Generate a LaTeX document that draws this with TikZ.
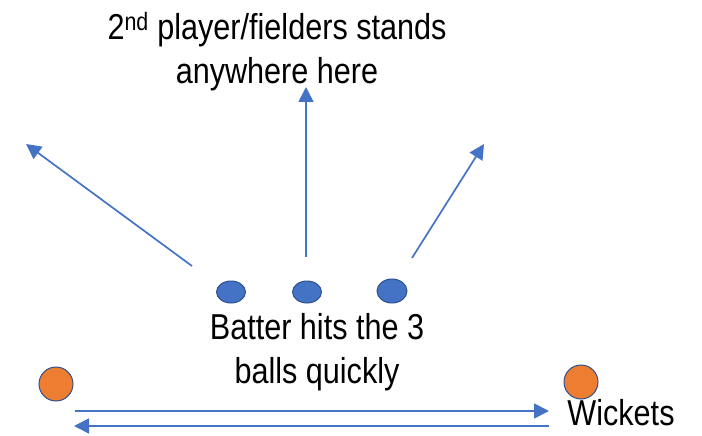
\documentclass[tikz,border=0pt]{standalone}
\usepackage{fontspec}
\setmainfont{Liberation Sans}[FakeStretch=0.85]
\usepackage{xcolor}
\usetikzlibrary{arrows.meta,positioning,shapes.geometric}
\definecolor{ballblue}{HTML}{4472C4}
\definecolor{rimblue}{HTML}{2F528F}
\definecolor{wicketorange}{HTML}{ED7D31}

\begin{document}
\begin{tikzpicture}[x=1pt,y=-1pt,>={Triangle[length=15pt,width=15pt]},
   hit/.style={->,color=ballblue,line width=1.7pt},
   ball/.style={ellipse,draw=rimblue,fill=ballblue,line width=1pt,minimum width=29pt,minimum height=22pt,inner sep=0pt},
   wicket/.style={circle,draw=rimblue,fill=wicketorange,line width=1pt,minimum size=34pt,inner sep=0pt},
   label/.style={align=center,anchor=base,inner sep=0pt,font=\fontsize{36}{44}\selectfont}]
   \useasboundingbox (0,0) rectangle (702,436);
   % balls and wickets
   \node[ball] (B1) at (231,292) {};
   \node[ball] (B2) at (307,292) {};
   \node[ball,minimum width=30pt,minimum height=24pt] (B3) at (392,291) {};
   \node[wicket] (W1) at (56,384) {};
   \node[wicket] (W2) at (581,382) {};
   % texts (base = last line)
   \node[label] (field) at (277,84) {2\textsuperscript{nd} player/fielders stands\\anywhere here};
   \node[label] (batter) at (317,383) {Batter hits the 3\\balls quickly};
   \node[label] (wkt) at (621,425) {Wickets};
   % free ends of the shots and runs
   \coordinate (lt) at (192,266); \coordinate (lh) at (26,144);
   \coordinate (mt) at (306,257); \coordinate (mh) at (306,87);
   \coordinate (rt) at (412,258); \coordinate (rh) at (484,144);
   \coordinate (ot) at (75,411);  \coordinate (oh) at (549,411);
   \coordinate (bt) at (549,426); \coordinate (bh) at (74,426);
   \path
    (lt) edge[hit] (lh)
    (mt) edge[hit] (mh)
    (rt) edge[hit] (rh)
    (ot) edge[hit] (oh)
    (bt) edge[hit] (bh);
\end{tikzpicture}
\end{document}
